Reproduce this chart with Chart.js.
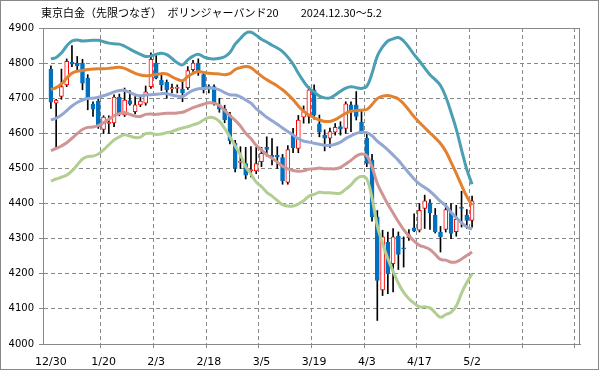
<!DOCTYPE html>
<html><head><meta charset="utf-8">
<script src="https://cdn.jsdelivr.net/npm/chart.js@4.4.1/dist/chart.umd.min.js"></script>
<style>html,body{margin:0;padding:0;background:#fff;}canvas{display:block;}</style>
</head><body>
<canvas id="c" width="599" height="370"></canvas>
<script>
const chartTitle = '東京白金（先限つなぎ）　ボリンジャーバンド20　　2024.12.30～5.2';

const dates = ['12/30','1/6','1/7','1/8','1/9','1/10','1/14','1/15','1/16','1/17',
  '1/20','1/21','1/22','1/23','1/24','1/27','1/28','1/29','1/30','1/31',
  '2/3','2/4','2/5','2/6','2/7','2/10','2/12','2/13','2/14','2/17',
  '2/18','2/19','2/20','2/21','2/25','2/26','2/27','2/28','3/3','3/4',
  '3/5','3/6','3/7','3/10','3/11','3/12','3/13','3/14','3/17','3/18',
  '3/19','3/21','3/24','3/25','3/26','3/27','3/28','3/31','4/1','4/2',
  '4/3','4/4','4/7','4/8','4/9','4/10','4/11','4/14','4/15','4/16',
  '4/17','4/18','4/21','4/22','4/23','4/24','4/25','4/28','4/30','5/1','5/2'];

const xTickLabels = ['12/30','1/20','2/3','2/18','3/5','3/19','4/3','4/17','5/2'];
const emptyDaysAfter = 20;

const openP = [4783,4686,4705,4738,4802,4800,4800,4757,4683,4692,
  4611,4628,4630,4703,4652,4693,4662,4681,4686,4733,
  4800,4752,4745,4727,4728,4726,4730,4781,4800,4767,
  4733,4733,4681,4669,4651,4572,4517,4514,4494,4493,
  4519,4560,4538,4538,4531,4460,4595,4557,4646,4648,
  4724,4627,4595,4586,4603,4619,4614,4681,4681,4631,
  4586,4524,4362,4154,4290,4229,4307,4274,4303,4331,
  4324,4386,4402,4367,4319,4326,4375,4320,4389,4367,4352];
const highP = [4792,4697,4783,4812,4850,4819,4811,4767,4690,4698,
  4650,4650,4710,4712,4729,4722,4705,4705,4735,4829,
  4826,4770,4752,4740,4738,4748,4790,4808,4812,4772,
  4738,4738,4700,4680,4660,4580,4562,4560,4562,4560,
  4560,4590,4585,4562,4540,4565,4614,4651,4678,4733,
  4738,4652,4610,4615,4628,4633,4690,4690,4719,4667,
  4600,4540,4380,4324,4319,4329,4319,4305,4326,4371,
  4400,4424,4411,4386,4335,4400,4400,4395,4435,4383,4421];
const lowP = [4671,4557,4697,4733,4790,4781,4724,4667,4648,4614,
  4600,4600,4619,4650,4648,4680,4655,4676,4680,4728,
  4755,4722,4700,4715,4715,4690,4725,4776,4765,4715,
  4715,4680,4660,4630,4570,4490,4500,4470,4476,4485,
  4505,4535,4510,4500,4455,4455,4545,4545,4629,4629,
  4640,4590,4550,4560,4595,4595,4600,4605,4638,4600,
  4505,4350,4067,4138,4143,4148,4212,4219,4295,4320,
  4319,4329,4326,4316,4262,4319,4300,4307,4333,4329,4333];
const closeP = [4689,4695,4733,4805,4797,4792,4743,4700,4669,4619,
  4646,4631,4703,4657,4695,4683,4681,4692,4718,4811,
  4757,4738,4724,4730,4731,4716,4779,4800,4774,4724,
  4729,4686,4669,4638,4579,4500,4520,4481,4497,4514,
  4543,4554,4532,4532,4465,4554,4559,4638,4662,4724,
  4652,4603,4586,4605,4617,4612,4684,4662,4648,4605,
  4514,4362,4181,4305,4200,4305,4255,4271,4311,4322,
  4381,4408,4373,4319,4305,4383,4315,4355,4386,4352,4408];

const upper2 = [4812,4816,4829,4849,4863,4866,4863,4864,4865,4865,
  4861,4857,4855,4854,4848,4840,4832,4825,4819,4820,
  4825,4828,4824,4813,4801,4795,4809,4820,4825,4818,
  4813,4812,4814,4818,4830,4854,4870,4885,4888,4879,
  4868,4860,4851,4843,4833,4817,4797,4771,4748,4729,
  4718,4706,4701,4701,4709,4720,4729,4733,4730,4728,
  4734,4771,4820,4846,4863,4869,4873,4863,4845,4824,
  4806,4786,4767,4753,4736,4704,4660,4612,4553,4497,4455];
const upper1 = [4725,4730,4741,4757,4771,4777,4779,4782,4783,4784,
  4784,4785,4787,4788,4785,4778,4771,4766,4764,4765,
  4768,4770,4769,4761,4754,4750,4762,4771,4776,4773,
  4771,4770,4769,4767,4770,4782,4787,4790,4787,4775,
  4763,4753,4744,4735,4724,4711,4696,4678,4663,4652,
  4645,4638,4634,4634,4639,4648,4657,4663,4665,4666,
  4668,4682,4699,4706,4708,4704,4698,4684,4666,4647,
  4631,4616,4601,4587,4571,4549,4518,4486,4452,4420,4395];
const middle = [4638,4643,4652,4665,4678,4688,4695,4699,4700,4703,
  4707,4712,4718,4722,4722,4716,4710,4707,4709,4710,
  4711,4713,4713,4709,4706,4705,4714,4722,4727,4728,
  4729,4728,4724,4716,4710,4709,4704,4695,4686,4670,
  4658,4646,4636,4626,4615,4605,4595,4585,4578,4575,
  4572,4569,4566,4566,4569,4575,4585,4593,4600,4603,
  4602,4593,4578,4566,4553,4538,4523,4505,4487,4470,
  4456,4446,4435,4421,4406,4394,4375,4360,4345,4333,4327];
const lower1 = [4551,4557,4564,4573,4586,4599,4611,4617,4618,4622,
  4630,4640,4650,4656,4659,4654,4649,4648,4654,4655,
  4654,4656,4657,4657,4658,4660,4666,4673,4678,4683,
  4687,4686,4679,4665,4650,4637,4621,4600,4585,4566,
  4553,4539,4529,4518,4506,4499,4494,4492,4493,4498,
  4499,4501,4499,4499,4499,4503,4513,4523,4535,4541,
  4536,4504,4457,4426,4398,4373,4348,4326,4308,4293,
  4281,4276,4269,4255,4241,4239,4233,4234,4242,4252,4262];
const lower2 = [4464,4470,4475,4481,4493,4510,4527,4534,4535,4541,
  4553,4567,4581,4590,4596,4592,4588,4589,4599,4600,
  4597,4598,4602,4605,4611,4615,4619,4624,4629,4638,
  4645,4644,4634,4614,4590,4564,4538,4505,4484,4461,
  4448,4432,4421,4409,4397,4393,4393,4399,4408,4421,
  4426,4432,4431,4431,4429,4430,4441,4453,4470,4478,
  4470,4415,4336,4286,4243,4207,4173,4147,4129,4116,
  4106,4106,4103,4089,4076,4084,4090,4108,4145,4175,4200];

// category list: one empty slot before the first day, empty days after the last
const labels = [''].concat(dates, new Array(emptyDaysAfter).fill(''));
const pad = a => [null].concat(a);

const isUp = closeP.map((c, i) => c >= openP[i]);
const BLUE = '#0070C0', RED = '#FF0000';
const bodyFill = pad(isUp.map(u => u ? '#FFFFFF' : BLUE));
const bodyEdge = pad(isUp.map(u => u ? RED : BLUE));

const wicks = pad(dates.map((d, i) => [lowP[i], highP[i]]));
const bodies = pad(dates.map((d, i) => [openP[i], closeP[i]]));

const GRID = '#888888';
function xGridColor(ctx) {
  const i = ctx.index;
  return (i >= 11 && i <= 101 && (i - 1) % 10 === 0) ? GRID : 'rgba(0,0,0,0)';
}

const lineDs = (data, color) => ({
  type: 'line', data: pad(data), borderColor: color, borderWidth: 3,
  pointRadius: 0, tension: 0.4, fill: false, order: 1
});

const framePlugin = {
  id: 'frame',
  afterDraw(chart) {
    const { ctx, chartArea: a } = chart;
    ctx.save();
    ctx.strokeStyle = GRID;
    ctx.lineWidth = 1;
    ctx.setLineDash([]);
    ctx.strokeRect(Math.round(a.left) + 0.5, Math.round(a.top) + 0.5,
      Math.round(a.right - a.left) - 1, Math.round(a.bottom - a.top));
    ctx.strokeRect(0.5, 0.5, chart.width - 1, chart.height - 1);
    ctx.fillStyle = '#000';
    ctx.font = '11px "Noto Sans CJK JP"';
    ctx.textBaseline = 'alphabetic';
    ctx.textAlign = 'left';
    ctx.fillText(chartTitle, 41, 17);
    ctx.restore();
  }
};

new Chart(document.getElementById('c'), {
  type: 'bar',
  data: {
    labels,
    datasets: [
      lineDs(upper2, '#4A9FB3'),
      lineDs(upper1, '#E2812F'),
      lineDs(middle, '#92A7D2'),
      lineDs(lower1, '#D09494'),
      lineDs(lower2, '#B3CE93'),
      { type: 'bar', data: bodies, backgroundColor: bodyFill, borderColor: bodyEdge,
        borderWidth: 1, borderSkipped: false, barThickness: 4, grouped: false, order: 2 },
      { type: 'bar', data: wicks, backgroundColor: '#000000', barThickness: 1,
        grouped: false, order: 3 }
    ]
  },
  options: {
    responsive: false,
    animation: false,
    devicePixelRatio: 1,
    layout: { padding: { left: 0, right: 19, top: 28, bottom: 0 } },
    plugins: { legend: { display: false }, tooltip: { enabled: false }, title: { display: false } },
    scales: {
      x: {
        type: 'category', offset: true,
        grid: { offset: true, color: xGridColor, tickColor: xGridColor, tickLength: 4, lineWidth: 1 },
        border: { display: true, color: GRID, dash: [4, 3] },
        ticks: {
          autoSkip: false, maxRotation: 0, minRotation: 0, padding: 8, color: '#000',
          font: { family: 'DejaVu Sans', size: 11 },
          callback(v) { const l = this.getLabelForValue(v); return xTickLabels.includes(l) ? l : ''; }
        },
        afterFit(s) { s.height = 26; }
      },
      y: {
        min: 4000, max: 4900,
        grid: { color: GRID, tickColor: GRID, tickLength: 4, lineWidth: 1 },
        border: { display: true, color: GRID, dash: [4, 3] },
        ticks: { stepSize: 100, padding: 5, color: '#000', font: { family: 'DejaVu Sans', size: 10 },
          callback: v => String(v) },
        afterFit(s) { s.width = 43; }
      }
    }
  },
  plugins: [framePlugin]
});
</script>
</body></html>
